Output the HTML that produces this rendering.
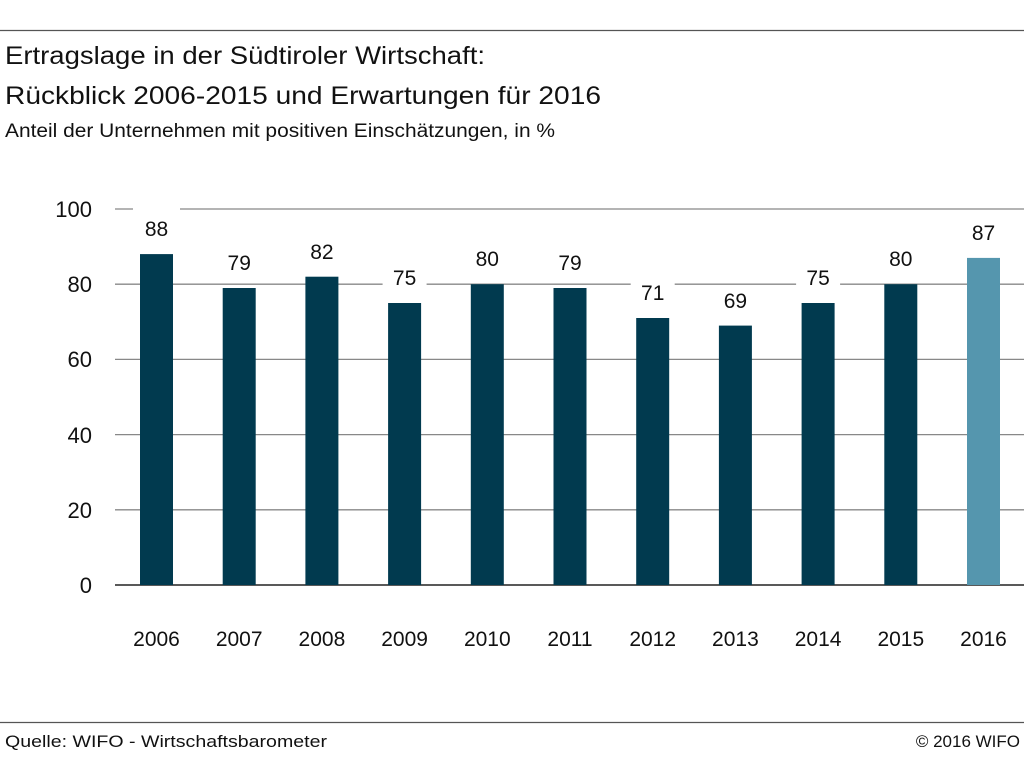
<!DOCTYPE html>
<html><head><meta charset="utf-8"><style>
body{margin:0;background:#fff;}
svg{display:block;font-family:"Liberation Sans",sans-serif;}
</style></head><body>
<svg width="1024" height="757" viewBox="0 0 1024 757">
<line x1="0" y1="30.5" x2="1024" y2="30.5" stroke="#555" stroke-width="1.2"/>
<g fill="#111">
<text x="5" y="64" font-size="25" textLength="480" lengthAdjust="spacingAndGlyphs">Ertragslage in der Südtiroler Wirtschaft:</text>
<text x="5" y="104" font-size="25" textLength="596" lengthAdjust="spacingAndGlyphs">Rückblick 2006-2015 und Erwartungen für 2016</text>
<text x="5" y="137" font-size="19" textLength="550" lengthAdjust="spacingAndGlyphs">Anteil der Unternehmen mit positiven Einschätzungen, in %</text>
</g>
<g stroke="#888" stroke-width="1.3">
<line x1="115" y1="209" x2="1024" y2="209"/>
<line x1="115" y1="284.2" x2="1024" y2="284.2"/>
<line x1="115" y1="359.4" x2="1024" y2="359.4"/>
<line x1="115" y1="434.6" x2="1024" y2="434.6"/>
<line x1="115" y1="509.8" x2="1024" y2="509.8"/>
</g>
<line x1="115" y1="585" x2="1024" y2="585" stroke="#222" stroke-width="1.5"/>
<g font-size="22" fill="#111" text-anchor="end">
<text x="92" y="217">100</text><text x="92" y="292">80</text><text x="92" y="367">60</text>
<text x="92" y="443">40</text><text x="92" y="518">20</text><text x="92" y="593">0</text>
</g>
<g fill="#fff">
<rect x="133" y="204" width="47" height="40"/>
<rect x="217.2" y="248" width="44" height="30"/>
<rect x="299.9" y="237" width="44" height="30"/>
<rect x="382.6" y="263" width="44" height="30"/>
<rect x="465.3" y="244" width="44" height="30"/>
<rect x="548" y="248" width="44" height="30"/>
<rect x="630.7" y="278" width="44" height="30"/>
<rect x="713.4" y="286" width="44" height="30"/>
<rect x="796.1" y="263" width="44" height="30"/>
<rect x="878.8" y="244" width="44" height="30"/>
<rect x="961.5" y="218" width="44" height="30"/>
</g>
<g fill="#013a4f">
<rect x="140" y="254.1" width="33" height="330.9"/>
<rect x="222.7" y="288" width="33" height="297"/>
<rect x="305.4" y="276.7" width="33" height="308.3"/>
<rect x="388.1" y="303" width="33" height="282"/>
<rect x="470.8" y="284.2" width="33" height="300.8"/>
<rect x="553.5" y="288" width="33" height="297"/>
<rect x="636.2" y="318" width="33" height="267"/>
<rect x="718.9" y="325.6" width="33" height="259.4"/>
<rect x="801.6" y="303" width="33" height="282"/>
<rect x="884.3" y="284.2" width="33" height="300.8"/>
</g>
<rect x="967" y="257.9" width="33" height="327.1" fill="#5596ae"/>
<g font-size="21" fill="#111" text-anchor="middle">
<text x="156.5" y="236">88</text>
<text x="239.2" y="270">79</text>
<text x="321.9" y="259">82</text>
<text x="404.6" y="285">75</text>
<text x="487.3" y="266">80</text>
<text x="570" y="270">79</text>
<text x="652.7" y="300">71</text>
<text x="735.4" y="308">69</text>
<text x="818.1" y="285">75</text>
<text x="900.8" y="266">80</text>
<text x="983.5" y="240">87</text>
</g>
<g font-size="21" fill="#111" text-anchor="middle">
<text x="156.5" y="646">2006</text>
<text x="239.2" y="646">2007</text>
<text x="321.9" y="646">2008</text>
<text x="404.6" y="646">2009</text>
<text x="487.3" y="646">2010</text>
<text x="570" y="646">2011</text>
<text x="652.7" y="646">2012</text>
<text x="735.4" y="646">2013</text>
<text x="818.1" y="646">2014</text>
<text x="900.8" y="646">2015</text>
<text x="983.5" y="646">2016</text>
</g>
<line x1="0" y1="722.5" x2="1024" y2="722.5" stroke="#555" stroke-width="1.2"/>
<text x="5" y="747" font-size="17" fill="#111" textLength="322" lengthAdjust="spacingAndGlyphs">Quelle: WIFO - Wirtschaftsbarometer</text>
<text x="1020" y="747" font-size="17" fill="#111" text-anchor="end">© 2016 WIFO</text>
</svg>
</body></html>
